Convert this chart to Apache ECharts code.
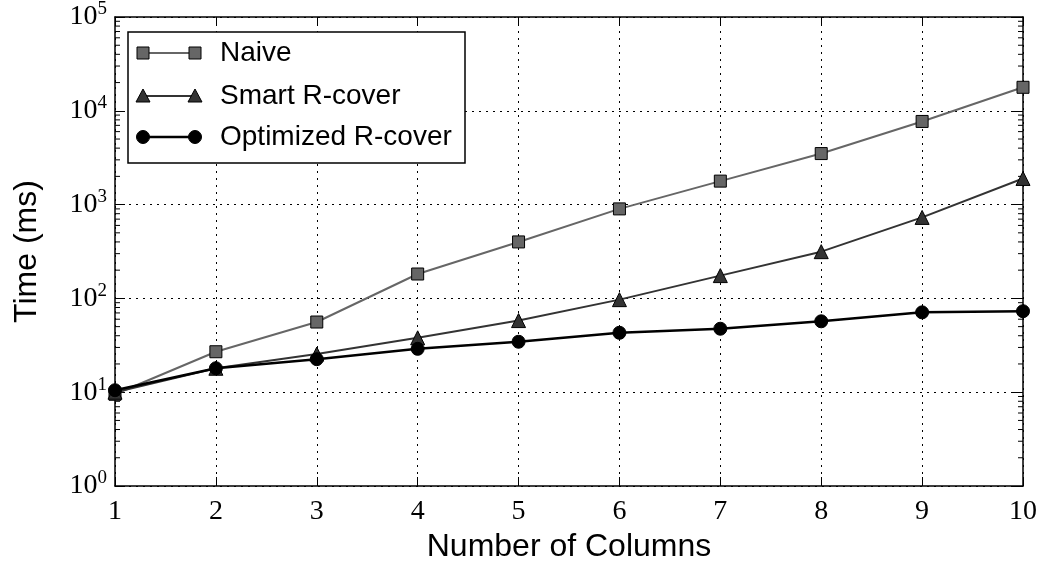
<!DOCTYPE html>
<html>
<head>
<meta charset="utf-8">
<script src="https://cdn.jsdelivr.net/npm/echarts@6/dist/echarts.min.js"></script>
<style>
  html, body { margin: 0; padding: 0; background: #fff; }
  #chart { width: 1044px; height: 563px; }
</style>
</head>
<body>
<div id="chart"></div>
<script>
// Number of columns on the x axis
const columns = [1, 2, 3, 4, 5, 6, 7, 8, 9, 10];
// Running time in milliseconds for each strategy
const naive = [9.5, 27, 56, 182, 400, 900, 1780, 3500, 7700, 17800];
const smartRCover = [10, 18, 25.5, 38, 58, 97, 175, 315, 730, 1900];
const optimizedRCover = [10.5, 18, 22.5, 29, 34.5, 43, 47.5, 57, 71, 73];
// Major decades on the time axis and the minor steps within each decade
const decades = [1, 10, 100, 1000, 10000, 100000];
const minorSteps = [2, 3, 4, 5, 6, 7, 8, 9];

const seriesNames = ['Naive', 'Smart R-cover', 'Optimized R-cover'];

const serifFont = '"Liberation Serif", "DejaVu Serif", serif';
const sansFont = '"Liberation Sans", Arial, sans-serif';

const minorValues = [];
decades.slice(0, -1).forEach(d => minorSteps.forEach(m => minorValues.push(m * d)));

const pair = (xs, ys) => xs.map((x, i) => [x, ys[i]]);

const chart = echarts.init(document.getElementById('chart'), null, { renderer: 'canvas' });

const gridLine = { show: true, lineStyle: { color: '#000', type: [2, 5], width: 1 } };
const frameLine = { show: true, onZero: false, lineStyle: { color: '#000', width: 1.5 } };

const powLabel = v => {
  const e = Math.round(Math.log10(v));
  return '{b|10}{s|' + e + '}';
};

const legendY = [53, 96, 137];
const legendColors = ['#666666', '#333333', '#000000'];

function legendSymbol(i, cx, cy) {
  if (i === 0) {
    return { type: 'rect', shape: { x: cx - 6, y: cy - 6, width: 12, height: 12 },
      style: { fill: '#666666', stroke: '#000', lineWidth: 1 }, z: 101 };
  }
  if (i === 1) {
    return { type: 'polygon', shape: { points: [[cx, cy - 7], [cx + 7, cy + 6], [cx - 7, cy + 6]] },
      style: { fill: '#333333', stroke: '#000', lineWidth: 1 }, z: 101 };
  }
  return { type: 'circle', shape: { cx: cx, cy: cy, r: 6.5 },
    style: { fill: '#000', stroke: '#000', lineWidth: 1 }, z: 101 };
}

const legendElements = [{
  type: 'rect', shape: { x: 128, y: 32, width: 337, height: 131 },
  style: { fill: '#fff', stroke: '#000', lineWidth: 1.5 }, z: 100
}];
seriesNames.forEach((name, i) => {
  const y = legendY[i];
  legendElements.push({
    type: 'line', shape: { x1: 143, y1: y, x2: 195, y2: y },
    style: { stroke: legendColors[i], lineWidth: i === 2 ? 2.5 : 2 }, z: 101
  });
  legendElements.push(legendSymbol(i, 143, y));
  legendElements.push(legendSymbol(i, 195, y));
  legendElements.push({
    type: 'text', x: 220, y: y,
    style: { text: name, fill: '#000', font: '28px ' + sansFont, textVerticalAlign: 'middle' }, z: 101
  });
});

const option = {
  animation: false,
  backgroundColor: '#fff',
  grid: { left: 115, right: 21, top: 17, bottom: 77, containLabel: false, outerBoundsMode: 'none' },
  xAxis: [{
    type: 'value', min: 1, max: 10, interval: 1,
    name: 'Number of Columns', nameLocation: 'middle', nameGap: 45,
    nameTextStyle: { fontFamily: sansFont, fontSize: 32, color: '#000' },
    axisLine: frameLine,
    axisTick: { show: true, inside: true, length: 9, lineStyle: { color: '#000', width: 1 } },
    axisLabel: { color: '#000', fontFamily: serifFont, fontSize: 28, margin: 12 },
    splitLine: gridLine
  }, {
    type: 'value', min: 1, max: 10, interval: 1, position: 'top',
    axisLine: frameLine,
    axisTick: { show: true, inside: true, length: 9, lineStyle: { color: '#000', width: 1 } },
    axisLabel: { show: false },
    splitLine: { show: false }
  }],
  yAxis: [{
    type: 'log', logBase: 10, min: 1, max: 100000,
    name: 'Time (ms)', nameLocation: 'middle', nameGap: 72,
    nameTextStyle: { fontFamily: sansFont, fontSize: 32, color: '#000' },
    axisLine: frameLine,
    axisTick: { show: true, inside: true, length: 10, lineStyle: { color: '#000', width: 1 } },
    axisLabel: {
      formatter: powLabel, margin: 8,
      rich: {
        b: { fontFamily: serifFont, fontSize: 28, color: '#000' },
        s: { fontFamily: serifFont, fontSize: 19, color: '#000', padding: [0, 0, 15, 0] }
      }
    },
    splitLine: gridLine
  }, {
    type: 'log', logBase: 10, min: 1, max: 100000, position: 'right',
    axisLine: frameLine,
    axisTick: { show: true, inside: true, length: 10, lineStyle: { color: '#000', width: 1 } },
    axisLabel: { show: false },
    splitLine: { show: false }
  }],
  graphic: legendElements,
  series: [{
    // minor log ticks along the left and right frame
    type: 'custom', xAxisIndex: 0, yAxisIndex: 0, silent: true, z: 1,
    data: minorValues.map(v => [1, v]),
    renderItem: (params, api) => {
      const left = api.coord([1, api.value(1)]);
      const right = api.coord([10, api.value(1)]);
      return {
        type: 'group', children: [
          { type: 'line', shape: { x1: left[0], y1: left[1], x2: left[0] + 5, y2: left[1] }, style: { stroke: '#000', lineWidth: 1 } },
          { type: 'line', shape: { x1: right[0] - 5, y1: right[1], x2: right[0], y2: right[1] }, style: { stroke: '#000', lineWidth: 1 } }
        ]
      };
    }
  }, {
    name: seriesNames[0], type: 'line', data: pair(columns, naive), z: 3,
    symbol: 'rect', symbolSize: 12,
    lineStyle: { color: '#666666', width: 2 },
    itemStyle: { color: '#666666', borderColor: '#000', borderWidth: 1 }
  }, {
    name: seriesNames[1], type: 'line', data: pair(columns, smartRCover), z: 4,
    symbol: 'triangle', symbolSize: 14,
    lineStyle: { color: '#333333', width: 2 },
    itemStyle: { color: '#333333', borderColor: '#000', borderWidth: 1 }
  }, {
    name: seriesNames[2], type: 'line', data: pair(columns, optimizedRCover), z: 5,
    symbol: 'circle', symbolSize: 13,
    lineStyle: { color: '#000', width: 2.5 },
    itemStyle: { color: '#000', borderColor: '#000', borderWidth: 1 }
  }]
};

chart.setOption(option);
</script>
</body>
</html>
